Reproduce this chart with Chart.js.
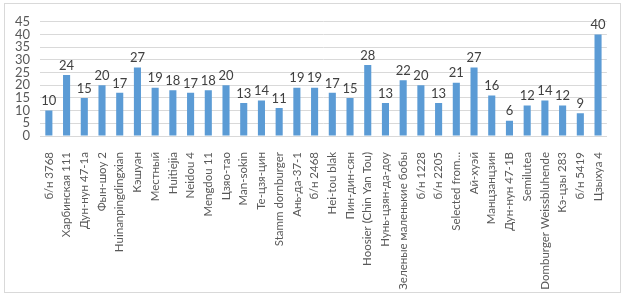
<!DOCTYPE html>
<html>
<head>
<meta charset="utf-8">
<script src="https://cdn.jsdelivr.net/npm/chart.js@4"></script>
<style>
  body{margin:0;background:#fff;}
  #wrap{position:absolute;left:4px;top:3px;width:615px;height:288px;border:1px solid #d9d9d9;}
</style>
</head>
<body>
<div id="wrap"><canvas id="plot_canvas" width="615" height="288"></canvas></div>
<script>
const categories = [
  "б/н 3768", "Харбинская 111", "Дун-нун 47-1а", "Фын-шоу 2", "Huinanpingdingxian",
  "Кэшуан", "Местный", "Huitiejia", "Neidou 4", "Mengdou 11", "Цзяо-тао",
  "Man-sokin", "Те-цзя-цин", "Stamm dornburger", "Ань-да-37-1", "б/н 2468",
  "Hei-tou blak", "Пин-дин-сян", "Hoosier (Chin Yan Tou)", "Нунь-цзян-да-доу",
  "Зеленые маленькие бобы", "б/н 1228", "б/н 2205", "Selected from…", "Ай-хуэй",
  "Манцзанцзин", "Дун-нун 47-1В", "Semilutea", "Domburger Weissbluhende",
  "Кэ-цзы 283", "б/н 5419", "Цзыхуа 4"
];
const values = [10, 24, 15, 20, 17, 27, 19, 18, 17, 18, 20, 13, 14, 11, 19, 19,
  17, 15, 28, 13, 22, 20, 13, 21, 27, 16, 6, 12, 14, 12, 9, 40];
const yTicks = [0, 5, 10, 15, 20, 25, 30, 35, 40, 45];

const FONT = "Lato, 'Liberation Sans', sans-serif";

// value labels over the bars
const barLabels = {
  id: "barLabels",
  afterDatasetsDraw(chart) {
    const ctx = chart.ctx;
    const meta = chart.getDatasetMeta(0);
    ctx.save();
    ctx.font = "13px " + FONT;
    ctx.fillStyle = "#404040";
    ctx.textAlign = "center";
    ctx.textBaseline = "bottom";
    meta.data.forEach((bar, i) => {
      ctx.fillText(String(values[i]), bar.x, bar.y - 3);
    });
    ctx.restore();
  }
};

const config = {
  type: "bar",
  data: {
    labels: categories,
    datasets: [{
      data: values,
      backgroundColor: "#5b9bd5",
      barPercentage: 0.4,
      categoryPercentage: 1.0
    }]
  },
  options: {
    responsive: false,
    animation: false,
    layout: {padding: {left: 0, right: 10, top: 4, bottom: 0}},
    plugins: {legend: {display: false}, tooltip: {enabled: false}},
    scales: {
      x: {
        grid: {display: false},
        border: {display: true, color: "#d9d9d9"},
        ticks: {
          autoSkip: false, maxRotation: 90, minRotation: 90, padding: 8,
          color: "#595959", font: {family: FONT, size: 11.5}
        },
        afterFit: s => { s.height = 156; }
      },
      y: {
        min: 0, max: 45,
        afterBuildTicks: s => { s.ticks = yTicks.map(v => ({value: v})); },
        grid: {color: "#d9d9d9", drawTicks: false},
        border: {display: false},
        ticks: {autoSkip: false, padding: 10, color: "#595959", font: {family: FONT, size: 13}},
        afterFit: s => { s.width = 35; }
      }
    }
  },
  plugins: [barLabels]
};

new Chart(document.getElementById("plot_canvas"), config);
</script>
</body>
</html>
